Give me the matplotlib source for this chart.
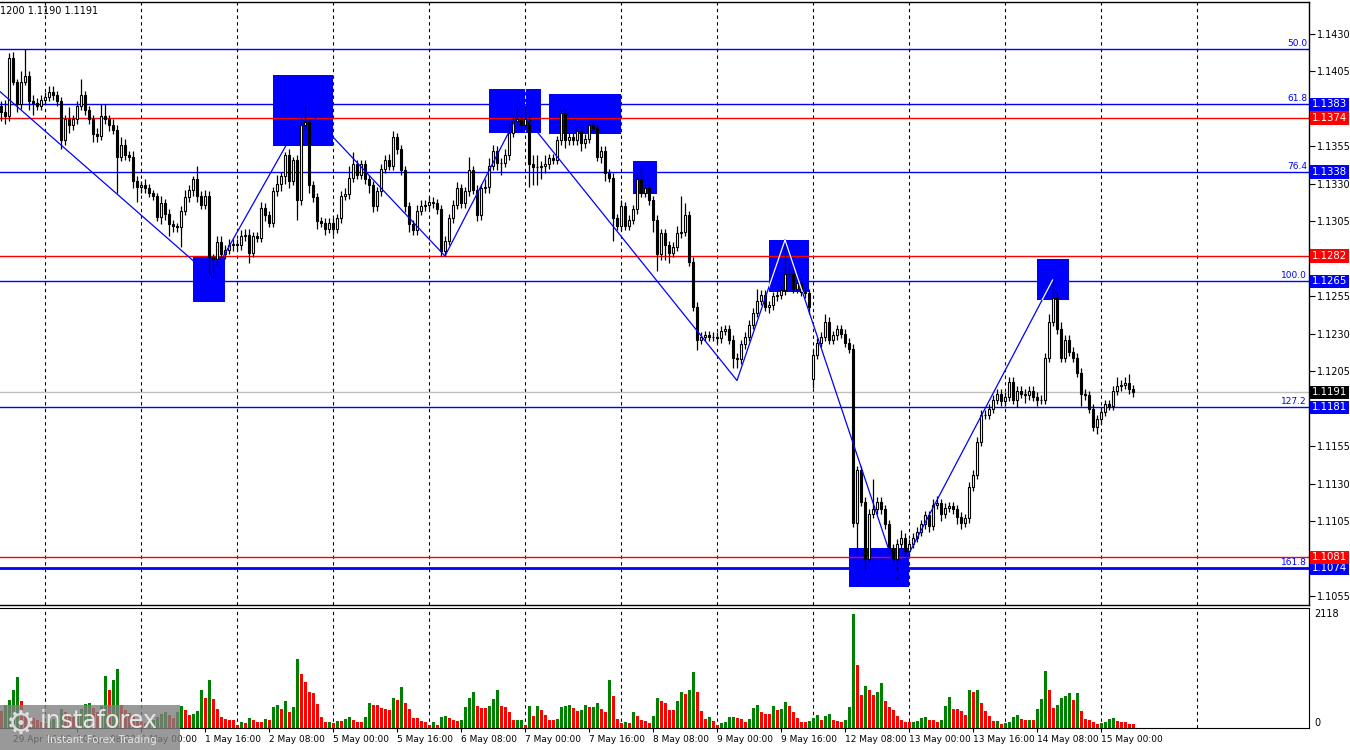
import numpy as np
import matplotlib
matplotlib.use('Agg')
import matplotlib.pyplot as plt
from matplotlib.patches import Rectangle
import matplotlib.transforms as mtransforms

plt.rcParams['font.family'] = ['DejaVu Sans']

# prices are kept in pips above 1.1000
base = 1.1000
pip = 0.0001

first_open = 382
gap_opens = {203: 200}

close_pips = [
    378, 375, 414, 398, 383, 398, 402, 385, 384, 382, 386,
    388, 391, 389, 385, 359, 373, 369, 373, 382, 389, 379, 373, 363, 362, 375, 373, 369, 366, 348, 356, 349, 348, 332, 328,
    329, 327, 324, 322, 308, 317, 310, 303, 302, 301, 312, 321, 326, 333, 322, 316, 322, 281, 280, 291, 283, 286, 289, 290,
    289, 295, 296, 284, 295, 294, 314, 309, 304, 325, 330, 335, 349, 332, 346, 319, 369, 371, 329, 321, 305, 304, 300, 304,
    300, 307, 322, 323, 334, 343, 336, 343, 333, 329, 315, 325, 340, 346, 342, 361, 353, 339, 315, 303, 299, 312, 315, 316,
    318, 317, 313, 285, 292, 307, 316, 327, 317, 325, 339, 326, 309, 327, 328, 342, 352, 344, 344, 349, 364, 372, 373, 369,
    373, 343, 341, 341, 342, 343, 347, 346, 359, 377, 359, 361, 359, 365, 357, 360, 369, 367, 348, 352, 337, 334, 307, 302,
    315, 302, 306, 313, 333, 324, 327, 319, 306, 283, 297, 289, 284, 288, 297, 298, 309, 278, 248, 226, 228, 229, 228, 228,
    227, 232, 233, 226, 214, 213, 223, 228, 236, 244, 252, 256, 248, 249, 255, 256, 259, 270, 270, 260, 264, 258, 257, 248,
    216, 224, 228, 238, 226, 229, 233, 230, 224, 220, 104, 139, 118, 80, 110, 113, 118, 113, 103, 87, 80, 90, 94, 85,
    90, 94, 98, 103, 109, 102, 116, 117, 110, 114, 115, 113, 108, 104, 107, 128, 136, 158, 176, 176, 180, 186, 190, 185,
    188, 198, 186, 192, 190, 189, 192, 188, 186, 186, 214, 238, 254, 233, 214, 226, 218, 214, 204, 190, 189, 180, 168, 173,
    178, 183, 182, 192, 195, 196, 197, 193, 191,
]

upper_wick = [
    3, 8, 3, 4, 2, 7, 18, 3, 4, 3, 3,
    3, 4, 4, 3, 3, 3, 8, 3, 3, 11, 3, 3, 3, 4, 8, 8, 3, 4, 3, 5, 4, 3, 4, 3,
    3, 4, 3, 2, 2, 5, 3, 3, 3, 2, 3, 5, 3, 2, 9, 3, 4, 3, 2, 4, 4, 3, 4, 3,
    3, 4, 4, 4, 3, 3, 4, 3, 3, 3, 6, 3, 2, 4, 2, 3, 5, 11, 2, 3, 3, 3, 3, 3,
    3, 3, 3, 4, 8, 8, 3, 3, 3, 3, 3, 3, 3, 3, 4, 4, 3, 3, 3, 3, 3, 4, 4, 3,
    3, 3, 3, 3, 3, 3, 3, 4, 3, 3, 9, 3, 3, 3, 5, 5, 4, 3, 3, 4, 6, 4, 8, 3,
    9, 3, 6, 8, 3, 6, 3, 3, 3, 2, 3, 3, 3, 3, 3, 3, 3, 3, 3, 3, 3, 3, 3, 3,
    4, 3, 3, 3, 4, 8, 3, 3, 3, 3, 3, 3, 3, 3, 5, 24, 8, 3, 3, 3, 3, 3, 3, 3,
    3, 3, 3, 3, 3, 3, 3, 3, 3, 3, 8, 3, 3, 3, 3, 3, 3, 22, 7, 3, 3, 3, 3, 3,
    3, 3, 3, 5, 3, 3, 3, 3, 3, 3, 3, 3, 3, 3, 3, 20, 3, 3, 3, 3, 3, 3, 5, 3,
    3, 3, 3, 3, 3, 3, 4, 5, 3, 3, 3, 3, 3, 3, 3, 3, 3, 3, 3, 3, 3, 3, 3, 3,
    3, 3, 3, 3, 3, 3, 3, 3, 3, 3, 3, 5, 12, 4, 5, 3, 3, 3, 3, 3, 3, 3, 3, 3,
    3, 3, 3, 3, 6, 3, 4, 6, 3,
]

lower_wick = [
    6, 5, 3, 2, 5, 3, 2, 6, 8, 3, 3,
    3, 3, 3, 3, 6, 3, 5, 3, 3, 3, 3, 3, 5, 4, 3, 3, 4, 3, 24, 3, 3, 3, 5, 10,
    4, 3, 3, 3, 3, 5, 4, 8, 4, 3, 13, 3, 3, 4, 4, 3, 3, 11, 13, 5, 3, 3, 3, 4,
    3, 3, 3, 7, 3, 3, 3, 4, 3, 3, 3, 5, 5, 5, 3, 13, 3, 3, 5, 3, 5, 3, 4, 3,
    4, 3, 3, 3, 3, 3, 3, 3, 3, 5, 4, 3, 3, 3, 3, 3, 3, 3, 4, 5, 3, 3, 3, 3,
    3, 3, 3, 3, 3, 3, 3, 3, 3, 3, 3, 3, 4, 3, 3, 4, 3, 5, 8, 3, 3, 3, 3, 3,
    3, 15, 12, 12, 8, 5, 3, 3, 3, 3, 5, 3, 3, 3, 5, 3, 3, 3, 3, 4, 5, 3, 15, 3,
    3, 3, 3, 3, 3, 3, 3, 3, 8, 11, 4, 10, 7, 3, 3, 3, 3, 3, 3, 7, 3, 3, 3, 3,
    3, 3, 3, 3, 7, 6, 3, 3, 3, 3, 3, 3, 3, 4, 3, 3, 3, 3, 3, 3, 3, 3, 3, 5,
    6, 3, 3, 3, 3, 3, 3, 3, 3, 3, 3, 20, 3, 7, 2, 3, 3, 3, 3, 3, 5, 14, 3, 3,
    3, 3, 3, 3, 3, 4, 3, 3, 5, 3, 3, 3, 5, 4, 3, 3, 3, 3, 3, 3, 3, 3, 3, 3,
    3, 3, 3, 5, 3, 5, 3, 3, 4, 3, 3, 3, 3, 3, 3, 3, 3, 3, 3, 8, 3, 3, 3, 5,
    3, 3, 3, 3, 3, 3, 3, 3, 3,
]

volumes = [
    310, 420, 527, 700, 942, 508, 250, 200, 180, 150, 120,
    100, 130, 160, 200, 350, 300, 250, 200, 280, 350, 446, 465, 372, 300, 400, 961, 713, 899, 1104, 422, 341, 280, 230, 160,
    110, 90, 120, 150, 200, 260, 300, 240, 190, 300, 403, 341, 248, 267, 310, 713, 558, 899, 546, 360, 205, 174, 155, 143,
    62, 112, 93, 186, 155, 112, 112, 174, 155, 391, 434, 360, 496, 304, 384, 1290, 1011, 862, 670, 657, 453, 205, 112, 118,
    93, 136, 124, 167, 205, 155, 112, 112, 198, 465, 434, 434, 372, 353, 341, 564, 527, 763, 465, 353, 186, 186, 136, 105,
    62, 105, 62, 211, 229, 180, 143, 136, 143, 384, 564, 670, 409, 372, 372, 415, 533, 713, 415, 391, 291, 143, 150, 155,
    62, 415, 217, 403, 341, 248, 155, 155, 174, 391, 415, 434, 372, 310, 329, 434, 391, 397, 471, 347, 304, 887, 601, 174,
    93, 112, 93, 298, 229, 143, 124, 93, 217, 564, 508, 471, 341, 341, 508, 676, 639, 701, 1035, 676, 322, 174, 198, 124,
    56, 99, 105, 198, 211, 192, 174, 112, 174, 366, 434, 304, 267, 267, 415, 341, 350, 490, 415, 304, 192, 112, 112, 136,
    180, 248, 143, 229, 267, 143, 124, 118, 155, 384, 2118, 1178, 620, 787, 713, 620, 676, 843, 496, 384, 341, 217, 155, 118,
    105, 118, 136, 192, 211, 155, 143, 118, 155, 415, 583, 360, 347, 310, 248, 713, 676, 713, 471, 322, 217, 124, 136, 68,
    93, 118, 211, 248, 174, 143, 155, 150, 360, 546, 1066, 713, 378, 434, 564, 601, 657, 527, 657, 322, 174, 155, 118, 81,
    99, 105, 174, 192, 136, 118, 105, 81, 75,
]

label_bars = [3, 19, 35, 51, 67, 83, 99, 115, 131, 147, 163, 179, 195, 211, 227, 243, 259, 275]
time_labels = ['29 Apr 16:00', '30 Apr 08:00', '1 May 00:00', '1 May 16:00', '2 May 08:00',
               '5 May 00:00', '5 May 16:00', '6 May 08:00', '7 May 00:00', '7 May 16:00',
               '8 May 08:00', '9 May 00:00', '9 May 16:00', '12 May 08:00', '13 May 00:00',
               '13 May 16:00', '14 May 08:00', '15 May 00:00']
grid_bars = [11, 35, 59, 83, 107, 131, 155, 179, 203, 227, 251, 275, 299]

price_ticks = [1.1055, 1.1080, 1.1105, 1.1130, 1.1155, 1.1180, 1.1205, 1.1230, 1.1255, 1.1280,
               1.1305, 1.1330, 1.1355, 1.1380, 1.1405, 1.1430]
hidden_ticks = [1.1080, 1.1180, 1.1280, 1.1380]

fib_names = ['50.0', '61.8', '76.4', '100.0', '127.2', '161.8']
fib_prices = [1.1420, 1.1383, 1.1338, 1.1265, 1.1181, 1.1074]
red_prices = [1.1374, 1.1282, 1.1081]
bid = 1.1191

zigzag_bars = [-0.25, 52.7, 76.4, 111, 129.75, 184, 196, 224.1, 262.9]
zigzag_pips = [391.6, 268, 380, 282, 379, 199, 292.7, 69, 266]

# bar from, bar to, low pips, high pips
zones = [
    (48, 56, 251.3, 281.3),
    (68, 83, 355.3, 402.7),
    (122, 135, 364, 393.3),
    (137, 155, 363.3, 390),
    (158, 164, 323.3, 345.3),
    (192, 202, 258, 292.7),
    (259, 266.9, 252.7, 280),
    (212, 227, 61.5, 87.5),
]

blue = '#0000FF'
red = '#FF0000'

close = base + np.array(close_pips) * pip
opens_p = [first_open] + close_pips[:-1]
for k, v in gap_opens.items():
    opens_p[k] = v
opens = base + np.array(opens_p) * pip
highs = np.maximum(opens, close) + np.array(upper_wick) * pip
lows = np.minimum(opens, close) - np.array(lower_wick) * pip
x = np.arange(len(close_pips))
vol = np.array(volumes)

fig = plt.figure(figsize=(13.5, 7.5), dpi=100)
ax = fig.add_axes([0, 1 - 605 / 750, 1309 / 1350, 603 / 750])
ax_v = fig.add_axes([0, 1 - 728 / 750, 1309 / 1350, 120 / 750], sharex=ax)

ax.set_xlim(-0.25, 327)
ax.set_ylim(1.104933, 1.145133)
ax_v.set_ylim(0, 2230)

dash = (0, (3, 3))
for g in grid_bars:
    ax.axvline(g, color='black', lw=0.8, ls=dash, zorder=1.5)
    ax_v.axvline(g, color='black', lw=0.8, ls=dash, zorder=0.5)

zone_patches = []
for b0, b1, lo, hi in zones:
    r = Rectangle((b0, base + lo * pip), b1 - b0, (hi - lo) * pip, fc=blue, ec='none', zorder=1)
    ax.add_patch(r)
    zone_patches.append(r)

yl = ax.axvline(131, color='#FFFF00', lw=0.8, ls=dash, zorder=1.6)
yl.set_clip_path(zone_patches[2])

for p in fib_prices:
    ax.axhline(p, color=blue, lw=2 if p == fib_prices[-1] else 1, zorder=2)
for p in red_prices:
    ax.axhline(p, color=red, lw=1, zorder=2)
ax.axhline(bid, color='#C0C0C0', lw=1, zorder=2)

ax.vlines(x, lows, highs, color='black', lw=0.9, zorder=3)
bull = close >= opens
body_h = np.maximum(np.abs(close - opens), 0.00001)
ax.bar(x, body_h, bottom=np.minimum(opens, close), width=0.7,
       color=np.where(bull, 'white', 'black'), edgecolor='black', linewidth=0.8, zorder=4)

zz_price = base + np.array(zigzag_pips) * pip
ax.plot(zigzag_bars, zz_price, color=blue, lw=0.9, zorder=5)
for k in (5, 6):
    ln, = ax.plot(zigzag_bars, zz_price, color='white', lw=0.9, zorder=5.1)
    ln.set_clip_path(zone_patches[k])

trans = mtransforms.blended_transform_factory(ax.transAxes, ax.transData)
for name, p in zip(fib_names, fib_prices):
    ax.text(0.9985, p + 0.00007, name, transform=trans, ha='right', va='bottom',
            color=blue, fontsize=6.5, zorder=6)

box_prices = fib_prices[1:] + red_prices + [bid]
box_colors = [blue] * 5 + [red] * 3 + ['black']
for p, c in zip(box_prices, box_colors):
    ax.text(1.0025, p, f'{p:.4f}', transform=trans, ha='left', va='center', color='white',
            fontsize=7.3, clip_on=False, zorder=6,
            bbox=dict(boxstyle='square,pad=0.18', fc=c, ec='none'))

ax.yaxis.tick_right()
ax.set_yticks(price_ticks)
ax.set_yticklabels(['' if t in hidden_ticks else f'{t:.4f}' for t in price_ticks])
ax.tick_params(axis='y', direction='out', length=4, width=0.8, labelsize=7, pad=2)
ax.tick_params(axis='x', bottom=False, labelbottom=False)
ax.spines['left'].set_visible(False)
for s in ('top', 'right', 'bottom'):
    ax.spines[s].set_linewidth(1)

vol_colors = ['#008000' if i > 0 and vol[i] > vol[i - 1] else red for i in range(len(vol))]
ax_v.bar(x, vol, width=0.75, color=vol_colors, zorder=2)
ax_v.set_yticks([])
vtrans = mtransforms.blended_transform_factory(ax_v.transAxes, ax_v.transData)
ax_v.text(1.004, 2118, '2118', transform=vtrans, ha='left', va='center', fontsize=7, clip_on=False)
ax_v.text(1.004, 0, '0', transform=vtrans, ha='left', va='bottom', fontsize=7, clip_on=False)
ax_v.set_xticks(label_bars)
ax_v.set_xticklabels(time_labels, ha='left', fontsize=6.5)
ax_v.tick_params(axis='x', direction='out', length=3, width=0.8, pad=2)
ax_v.spines['left'].set_visible(False)

fig.text(0.0, 1 - 11 / 750, '1200 1.1190 1.1191', fontsize=7, ha='left', va='center')

fig.patches.append(Rectangle((0, 0), 180 / 1350, 45 / 750, transform=fig.transFigure,
                             fc='#808080', ec='none', alpha=0.8, zorder=10))
fig.text(6 / 1350, 1 - 724 / 750, '\u2699', fontsize=24, color='#dddddd', va='center', zorder=11)
fig.text(40 / 1350, 1 - 721 / 750, 'instaforex', fontsize=17, color='#e6e6e6', va='center', zorder=11)
fig.text(47 / 1350, 1 - 740 / 750, 'Instant Forex Trading', fontsize=7.5, color='#e6e6e6', va='center', zorder=11)

fig.savefig('out.png', dpi=100)
